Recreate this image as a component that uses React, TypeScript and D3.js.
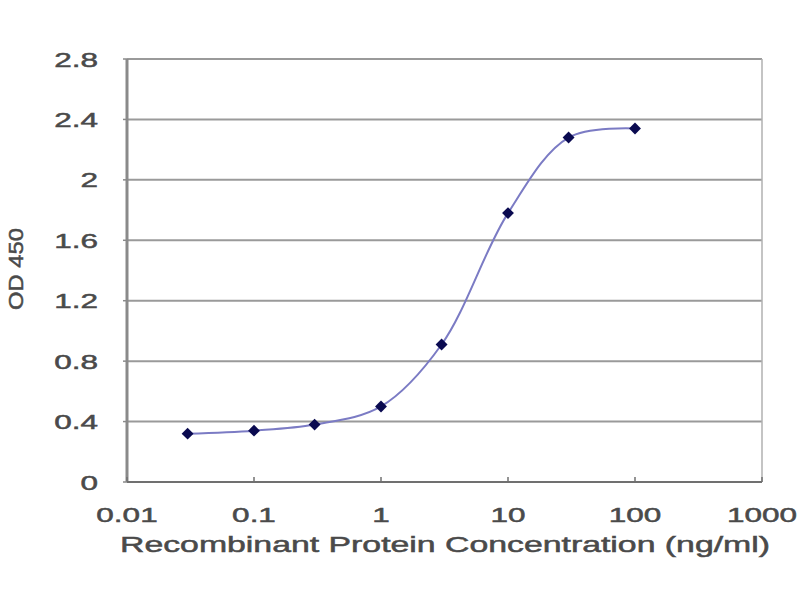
import * as d3 from 'd3';
import { useEffect, useRef } from 'react';

const concentrations = [0.03, 0.1, 0.3, 1, 3, 10, 30, 100];
const od450 = [0.32, 0.34, 0.38, 0.5, 0.91, 1.78, 2.28, 2.34];
const xTicks = [0.01, 0.1, 1, 10, 100, 1000];
const xTickLabels = ['0.01', '0.1', '1', '10', '100', '1000'];
const yTicks = [0, 0.4, 0.8, 1.2, 1.6, 2, 2.4, 2.8];

const width = 800;
const height = 600;
const margin = { top: 59, right: 38, bottom: 118, left: 127 };
const font = 'Arial, "Liberation Sans", sans-serif';
const textColor = '#4a4a4a';
const stretch = 1.5;

export default function App() {
  const ref = useRef<SVGSVGElement>(null);

  useEffect(() => {
    if (!ref.current) return;
    const svg = d3.select(ref.current);
    svg.selectAll('*').remove();

    const x = d3.scaleLog()
      .domain([0.01, 1000])
      .range([margin.left, width - margin.right]);

    const y = d3.scaleLinear()
      .domain([0, 2.8])
      .range([height - margin.bottom, margin.top]);

    svg.append('rect')
      .attr('width', width)
      .attr('height', height)
      .attr('fill', '#fff');

    // the source image has wide, slightly heavy lettering
    const label = (g: d3.Selection<SVGGElement, unknown, null, undefined>, size: number) =>
      g.attr('font-family', font)
        .attr('font-size', size)
        .attr('fill', textColor)
        .attr('stroke', textColor)
        .attr('stroke-width', 0.5);

    // Gridlines
    svg.append('g')
      .selectAll('line')
      .data(yTicks.slice(1))
      .join('line')
      .attr('x1', x(0.01))
      .attr('x2', x(1000))
      .attr('y1', d => y(d))
      .attr('y2', d => y(d))
      .attr('stroke', '#9a9a9a')
      .attr('stroke-width', 2);

    // Right border
    svg.append('line')
      .attr('x1', x(1000))
      .attr('x2', x(1000))
      .attr('y1', y(2.8))
      .attr('y2', y(0))
      .attr('stroke', '#b0b0b0')
      .attr('stroke-width', 1.5);

    // Axes
    svg.append('line')
      .attr('x1', x(0.01))
      .attr('x2', x(0.01))
      .attr('y1', y(2.8))
      .attr('y2', y(0))
      .attr('stroke', '#8a8a8a')
      .attr('stroke-width', 3);

    svg.append('line')
      .attr('x1', x(0.01))
      .attr('x2', x(1000))
      .attr('y1', y(0))
      .attr('y2', y(0))
      .attr('stroke', '#707070')
      .attr('stroke-width', 2);

    // x ticks (inside)
    svg.append('g')
      .selectAll('line')
      .data(xTicks)
      .join('line')
      .attr('x1', d => x(d))
      .attr('x2', d => x(d))
      .attr('y1', y(0))
      .attr('y2', y(0) - 5)
      .attr('stroke', '#707070')
      .attr('stroke-width', 1.5);

    // y ticks
    svg.append('g')
      .selectAll('line')
      .data(yTicks)
      .join('line')
      .attr('x1', x(0.01) - 4)
      .attr('x2', x(0.01))
      .attr('y1', d => y(d))
      .attr('y2', d => y(d))
      .attr('stroke', '#8a8a8a')
      .attr('stroke-width', 1.5);

    // y tick labels
    svg.append('g')
      .call(g => label(g, 21))
      .selectAll('text')
      .data(yTicks)
      .join('text')
      .attr('transform', d => `translate(98, ${y(d)}) scale(${stretch}, 1)`)
      .attr('dy', '0.36em')
      .attr('text-anchor', 'end')
      .text(d => String(d));

    // x tick labels
    svg.append('g')
      .call(g => label(g, 21))
      .selectAll('text')
      .data(xTicks)
      .join('text')
      .attr('transform', d => `translate(${x(d)}, 522) scale(${stretch}, 1)`)
      .attr('text-anchor', 'middle')
      .text((_, i) => xTickLabels[i]);

    // Axis titles
    svg.append('g')
      .call(g => label(g, 22))
      .append('text')
      .attr('x', 445)
      .attr('y', 552)
      .attr('text-anchor', 'middle')
      .attr('textLength', 650)
      .attr('lengthAdjust', 'spacingAndGlyphs')
      .text('Recombinant Protein Concentration (ng/ml)');

    svg.append('g')
      .call(g => label(g, 21))
      .append('text')
      .attr('transform', `translate(23, 269) rotate(-90)`)
      .attr('text-anchor', 'middle')
      .attr('textLength', 82)
      .attr('lengthAdjust', 'spacingAndGlyphs')
      .text('OD 450');

    const points = concentrations.map((c, i) => [c, od450[i]] as [number, number]);

    const line = d3.line<[number, number]>()
      .x(d => x(d[0]))
      .y(d => y(d[1]))
      .curve(d3.curveCatmullRom.alpha(0.5));

    svg.append('path')
      .datum(points)
      .attr('fill', 'none')
      .attr('stroke', '#7b7bc4')
      .attr('stroke-width', 2)
      .attr('d', line);

    const diamond = d3.symbol().type(d3.symbolDiamond2).size(90);

    svg.append('g')
      .selectAll('path')
      .data(points)
      .join('path')
      .attr('transform', d => `translate(${x(d[0])}, ${y(d[1])})`)
      .attr('d', diamond)
      .attr('fill', '#0a0a50');
  }, []);

  return (
    <svg
      ref={ref}
      width={width}
      height={height}
      viewBox={`0 0 ${width} ${height}`}
      style={{ position: 'absolute', left: 0, top: 0 }}
    />
  );
}
